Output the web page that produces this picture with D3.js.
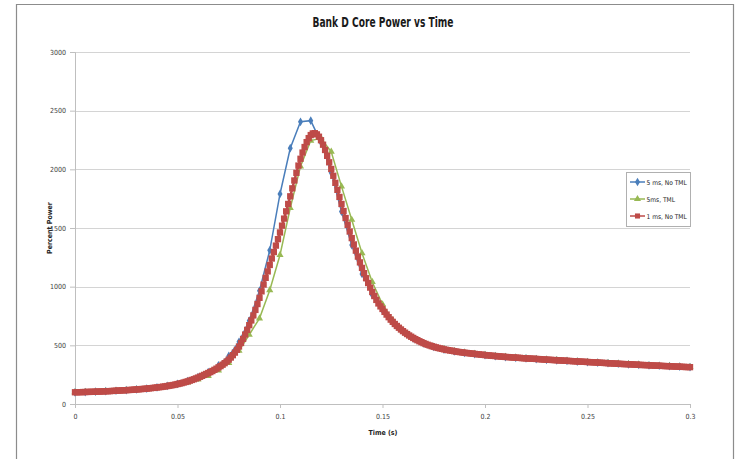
<!DOCTYPE html>
<html><head><meta charset="utf-8">
<script src="https://cdn.jsdelivr.net/npm/d3@7"></script>
<style>
html,body{margin:0;padding:0;background:#fff;}
text{font-family:"Liberation Sans Narrow","DejaVu Sans Condensed","Liberation Sans",sans-serif;}
</style></head>
<body>
<svg id="chart" width="742" height="459"></svg>
<script>
const title = "Bank D Core Power vs Time";
const xTitle = "Time (s)";
const yTitle = "Percent Power";
const xTicks = [0, 0.05, 0.1, 0.15, 0.2, 0.25, 0.3];
const xTickLabels = ["0", "0.05", "0.1", "0.15", "0.2", "0.25", "0.3"];
const yTicks = [0, 500, 1000, 1500, 2000, 2500, 3000];
const seriesNames = ["5 ms, No TML", "5ms, TML", "1 ms, No TML"];

// 5 ms step series (t = 0 .. 0.3)
const blue5ms = [100,102,105,109,113,118,125,132,142,155,
  172,196,229,272,330,410,530,710,965,1310,
  1790,2180,2405,2415,2230,1970,1640,1355,1108,930,
  800,695,618,560,517,486,464,448,436,426,
  416,408,400,394,388,383,377,372,367,362,
  357,352,348,343,338,334,330,326,322,318,314];
const green5ms = [100,101,104,107,111,116,122,129,138,150,
  165,184,210,240,285,350,455,590,730,970,
  1270,1670,2025,2245,2265,2150,1855,1570,1285,1040,
  850,715,625,565,522,490,468,451,438,428,
  418,409,401,395,389,383,378,373,368,363,
  358,353,348,344,339,335,330,326,322,318,315];
// 1 ms step series (t = 0 .. 0.3)
const red1ms = [100,100,101,101,102,102,103,103,104,104,
  105,106,106,107,108,109,109,110,111,112,
  113,114,115,116,117,118,119,120,121,123,
  124,125,127,128,130,131,133,135,137,139,
  141,143,145,148,150,153,156,159,162,166,
  170,174,178,183,188,193,199,205,211,218,
  225,232,240,248,256,264,272,281,291,301,
  312,323,335,348,362,378,396,416,438,462,
  490,520,555,592,632,672,712,755,802,852,
  905,960,1018,1075,1130,1185,1240,1295,1350,1405,
  1462,1520,1580,1642,1705,1770,1838,1905,1970,2032,
  2090,2143,2190,2232,2266,2292,2306,2308,2298,2278,
  2248,2210,2165,2115,2060,2003,1945,1885,1825,1765,
  1705,1645,1585,1527,1470,1414,1360,1307,1256,1207,
  1160,1115,1072,1031,992,955,920,887,857,832,
  810,785,762,740,719,700,682,665,650,635,
  621,608,596,584,573,563,553,544,535,527,
  519,512,505,499,493,488,483,478,474,470,
  466,462,459,456,453,450,447,444,442,439,
  437,435,433,431,429,427,425,423,421,419,
  417,415,414,412,410,409,407,406,404,403,
  401,400,399,397,396,395,394,393,391,390,
  389,388,387,386,385,384,383,382,380,379,
  378,377,376,375,374,373,372,371,370,369,
  368,367,366,365,364,363,362,361,360,359,
  358,357,356,355,354,353,352,351,350,349,
  348,347,346,345,344,343,342,341,340,340,
  339,338,337,336,335,334,333,332,332,331,
  330,329,328,327,327,326,325,324,323,323,
  322,321,320,319,319,318,317,316,315,315,
  314];

const svg = d3.select("#chart");
const W = 742, H = 459;
const x = d3.scaleLinear().domain([0, 0.3]).range([75, 690]);
const y = d3.scaleLinear().domain([0, 3000]).range([404, 52]);

// outer frame
svg.append("path").attr("d", `M16.5,${H} V4.5 H733.5 V${H}`)
  .attr("fill", "none").attr("stroke", "#8c8c8c").attr("stroke-width", 1.2);

// title
svg.append("text").attr("x", 383).attr("y", 27).attr("text-anchor", "middle")
  .attr("font-size", 14).attr("font-weight", "bold").attr("fill", "#1a1a1a")
  .attr("textLength", 141).attr("lengthAdjust", "spacingAndGlyphs").text(title);

// gridlines
svg.append("g").selectAll("line").data(yTicks.filter(d => d > 0)).join("line")
  .attr("x1", x(0)).attr("x2", x(0.3))
  .attr("y1", d => Math.round(y(d)) + 0.5).attr("y2", d => Math.round(y(d)) + 0.5)
  .attr("stroke", "#d4d4d4").attr("stroke-width", 1);

// y axis
const yAxis = d3.axisLeft(y).tickValues(yTicks).tickSize(5).tickPadding(4).tickFormat(d3.format("d"));
const gy = svg.append("g").attr("transform", `translate(${x(0)},0)`).call(yAxis);
gy.select(".domain").attr("stroke", "#bfbfbf");
gy.selectAll(".tick line").attr("stroke", "#bfbfbf");
gy.selectAll(".tick text").attr("font-size", 7).attr("fill", "#404040")
  .attr("font-family", "\"Liberation Sans Narrow\",\"DejaVu Sans Condensed\",sans-serif");

// x axis
const xAxis = d3.axisBottom(x).tickValues(xTicks).tickSize(4).tickPadding(6)
  .tickFormat((d, i) => xTickLabels[i]);
const gx = svg.append("g").attr("transform", `translate(0,${y(0)})`).call(xAxis);
gx.select(".domain").attr("stroke", "#bfbfbf");
gx.selectAll(".tick line").attr("stroke", "#bfbfbf");
gx.selectAll(".tick text").attr("font-size", 7).attr("fill", "#404040")
  .attr("font-family", "\"Liberation Sans Narrow\",\"DejaVu Sans Condensed\",sans-serif");

// axis titles
svg.append("text").attr("x", 383).attr("y", 435).attr("text-anchor", "middle")
  .attr("font-size", 7).attr("font-weight", "bold").attr("fill", "#262626").text(xTitle);
svg.append("text").attr("transform", "translate(52,228) rotate(-90)").attr("text-anchor", "middle")
  .attr("font-size", 7).attr("font-weight", "bold").attr("fill", "#262626").text(yTitle);

const t5 = blue5ms.map((d, i) => i * 0.005);
const t1 = red1ms.map((d, i) => i * 0.001);

const colors = ["#4a7ebb", "#98b954", "#be4b48"];
const symbols = [d3.symbolDiamond, d3.symbolTriangle, d3.symbolSquare];
const symSizes = [22, 22, 40];
const series = [
  {vals: blue5ms, t: t5},
  {vals: green5ms, t: t5},
  {vals: red1ms, t: t1}
];

const line = d3.line();
series.forEach((s, k) => {
  const pts = s.vals.map((v, i) => [x(s.t[i]), y(v)]);
  svg.append("path").attr("d", line(pts)).attr("fill", "none")
    .attr("stroke", colors[k]).attr("stroke-width", k === 2 ? 2.5 : 1.5);
  svg.append("g").selectAll("path").data(pts).join("path")
    .attr("transform", d => `translate(${d[0]},${d[1]})`)
    .attr("d", d3.symbol().type(symbols[k]).size(symSizes[k])())
    .attr("fill", colors[k]);
});

// legend
const lg = svg.append("g");
lg.append("rect").attr("x", 626.5).attr("y", 172.5).attr("width", 64).attr("height", 54)
  .attr("fill", "#fff").attr("stroke", "#b0b0b0").attr("stroke-width", 1);
seriesNames.forEach((name, k) => {
  const yy = 182 + k * 17;
  lg.append("line").attr("x1", 630).attr("x2", 645).attr("y1", yy).attr("y2", yy)
    .attr("stroke", colors[k]).attr("stroke-width", 1.5);
  lg.append("path").attr("transform", `translate(637.5,${yy})`)
    .attr("d", d3.symbol().type(symbols[k]).size(k === 2 ? 26 : symSizes[k])()).attr("fill", colors[k]);
  lg.append("text").attr("x", 646.5).attr("y", yy + 2.5).attr("font-size", 6.6)
    .attr("fill", "#262626").text(name);
});
</script>
</body></html>
